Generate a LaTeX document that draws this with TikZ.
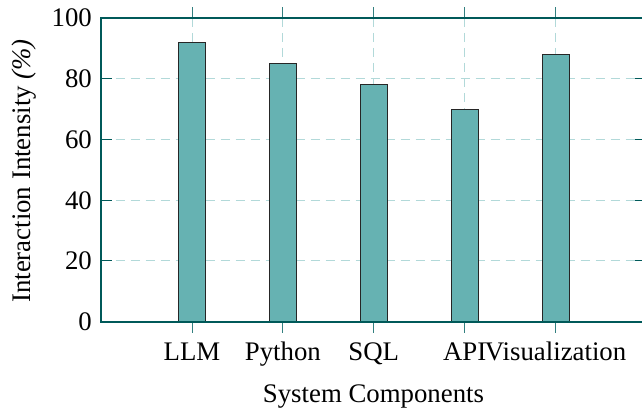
\documentclass[tikz,border=0pt]{standalone}
\usepackage{fontspec}
\setmainfont{Liberation Serif}
\begin{document}
\begin{tikzpicture}[x=1pt,y=-1pt,
  font=\fontsize{26.8}{32}\selectfont,
  frame/.style={draw=teal!70!black,line width=1.7pt},
  gridline/.style={draw=teal!30,line width=1pt,dash pattern=on 9pt off 6pt},
  xtickmark/.style={draw=teal!75!black!80,line width=1pt},
  ytickmark/.style={draw=teal!70!black,line width=1pt},
  barbox/.style={draw=black!85,fill=teal!60,line width=1pt},
  ticklabel/.style={inner sep=0pt}]
\useasboundingbox (0,0) rectangle (642,412);
% axis geometry: left 100.7, right 646, top 18, bottom 321.7
\def\xl{100.7}\def\xr{646}\def\yt{18}\def\yb{321.7}
\def\ys{3.037}
% horizontal grid
\foreach \v in {20,40,60,80}
  \draw[gridline] (\xl,\yb-\v*\ys) -- (\xr,\yb-\v*\ys);
% vertical grid and ticks at the categories
\foreach \i in {0,...,4}{
  \draw[gridline] (192+90.9*\i,\yt) -- (192+90.9*\i,\yb);
  \draw[xtickmark] (192+90.9*\i,\yt) -- (192+90.9*\i,\yt-11);
  \draw[xtickmark] (192+90.9*\i,\yb) -- (192+90.9*\i,\yb+11);
}
% bars
\foreach \i/\v in {0/92,1/85,2/78,3/70,4/88}
  \draw[barbox] (192+90.9*\i-13.5,\yb) rectangle (192+90.9*\i+13.5,\yb-\v*\ys);
% y ticks (inward) and labels
\foreach \v in {0,20,...,100}{
  \draw[ytickmark] (\xl,\yb-\v*\ys) -- (\xl+11,\yb-\v*\ys);
  \draw[ytickmark] (\xr,\yb-\v*\ys) -- (\xr-11,\yb-\v*\ys);
  \node[ticklabel,anchor=east] (yl\v) at (92,\yb-\v*\ys) {\v};
}
% frame
\draw[frame] (\xl,\yt) rectangle (\xr,\yb);
% category labels
\foreach \i/\t in {0/LLM,1/Python,2/SQL,3/API,4/Visualization}
  \node[ticklabel,anchor=base] (xl\i) at (192+90.9*\i,360) {\t};
% axis titles
\node[ticklabel,anchor=base] (xtitle) at (373.5,402) {System Components};
\node[ticklabel,anchor=base,rotate=90] (ytitle) at (30,171) {Interaction Intensity \textit{(\%)}};
\end{tikzpicture}
\end{document}
